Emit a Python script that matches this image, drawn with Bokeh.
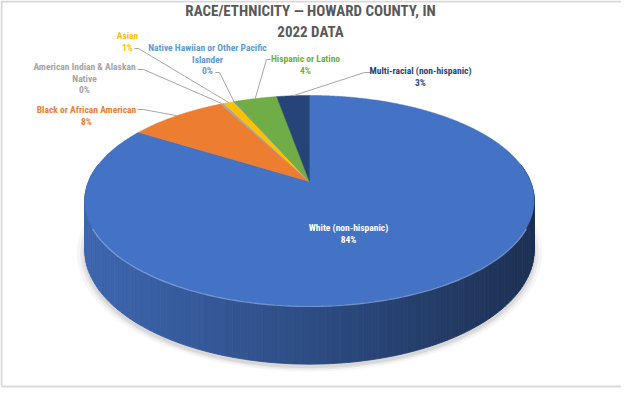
import numpy as np
from bokeh.plotting import figure
from bokeh.models import Range1d
from bokeh.core.properties import value
from bokeh.embed import file_html
from bokeh.resources import INLINE

# ---------------- data ----------------
title_lines = ["RACE/ETHNICITY \u2014 HOWARD COUNTY, IN", "2022 DATA"]
categories = ["White (non-hispanic)", "Black or African American",
              "American Indian & Alaskan Native", "Asian",
              "Native Hawiian or Other Pacific Islander", "Hispanic or Latino",
              "Multi-racial (non-hispanic)"]
shares = [83.9, 8.4, 0.25, 0.9, 0.05, 3.7, 2.8]
pct_labels = ["84%", "8%", "0%", "1%", "0%", "4%", "3%"]
label_lines = [["White (non-hispanic)"], ["Black or African American"],
               ["American Indian & Alaskan", "Native"], ["Asian"],
               ["Native Hawiian or Other Pacific", "Islander"], ["Hispanic or Latino"],
               ["Multi-racial (non-hispanic)"]]
colors = ["#4472C4", "#ED7D31", "#A5A5A5", "#FFC000", "#5B9BD5", "#70AD47", "#264478"]
label_colors = ["#FFFFFF", "#ED7D31", "#A5A5A5", "#FFC000", "#5B9BD5", "#70AD47", "#264478"]

# ---------------- layout (figure pixel coords, y downwards) ----------------
W, H = 621, 388
CX, CY = 309.0, 181.0      # projected pie centre
A, B, K = 221.0, 101.6, 0.181   # perspective projection parameters
HD = 48.0                  # side depth
FONT = "Roboto Condensed, Liberation Sans Narrow, Liberation Sans, sans-serif"
label_pos = [(348, 227), (86, 109), (84, 66), (127, 35), (207, 47), (305, 58), (420, 70)]
leader_start = [None, [(137, 109), (143, 109)], [(137, 69), (143, 69)], [(134, 48), (138, 48)],
                [(215, 72), (219, 72)], [(270, 59), (266, 59)], [(370, 72), (364, 72)]]
LINE_H = 11.5


def proj(theta_deg):
    t = np.radians(theta_deg)
    s = 1 + K * np.cos(t)
    return CX + A * np.sin(t) / s, CY - B * np.cos(t) / s


def depth(theta_deg):
    return HD / (1 + K * np.cos(np.radians(theta_deg)))


def hex2rgb(h):
    return np.array([int(h[i:i + 2], 16) for i in (1, 3, 5)], dtype=float)


def rgb2hex(c):
    c = np.clip(np.round(c), 0, 255).astype(int)
    return "#%02x%02x%02x" % tuple(c)


p = figure(width=W, height=H, x_range=Range1d(0, W), y_range=Range1d(H, 0),
           output_backend="svg", toolbar_location=None, min_border=0,
           x_axis_location=None, y_axis_location=None)
p.grid.visible = False
p.outline_line_color = None
p.background_fill_color = "white"
p.border_fill_color = "white"

# frame
p.line([W, 1, 1], [1, 1, H - 2], line_color="#D9D9D9", line_width=2)
p.line([1, W], [H - 2, H - 2], line_color="#D9D9D9", line_width=2)

total = sum(shares)
bounds = np.concatenate([[0], np.cumsum(shares)]) / total * 360.0

# shadow
th_all = np.linspace(0, 360, 181)
bx, by = proj(th_all)
by = by + depth(th_all)
mx, my = bx.mean(), by.mean()
for sc, al in [(1.035, 0.035), (1.02, 0.05), (1.008, 0.07)]:
    p.patch(mx + (bx - mx) * sc, my + (by - my) * sc + 3, fill_color="#000000",
            fill_alpha=al, line_color=None)

# side (front half), shaded left->right
th_side = np.linspace(80, 280, 121)
sx, sy = proj(th_side)
sd = depth(th_side)
xmin, xmax = sx.min(), sx.max()
xs_side, ys_side, cols_side = [], [], []
for i in range(len(th_side) - 1):
    xq = [sx[i], sx[i + 1], sx[i + 1], sx[i]]
    yq = [sy[i], sy[i + 1], sy[i + 1] + sd[i + 1], sy[i] + sd[i]]
    tm = 0.5 * (th_side[i] + th_side[i + 1])
    idx = int(np.searchsorted(bounds, tm, side="right") - 1)
    idx = min(max(idx, 0), len(shares) - 1)
    f = (0.5 * (sx[i] + sx[i + 1]) - xmin) / (xmax - xmin)
    shade = np.interp(f, [0, 0.5, 1], [0.90, 0.67, 0.42])
    c = rgb2hex(hex2rgb(colors[idx]) * shade)
    xs_side.append(xq)
    ys_side.append(yq)
    cols_side.append(c)
p.patches(xs_side, ys_side, fill_color=cols_side, line_color=cols_side, line_width=0.8)

# top face slices
for i, v in enumerate(shares):
    a0, a1 = bounds[i], bounds[i + 1]
    if a1 - a0 <= 0.1:
        continue
    n = max(3, int((a1 - a0) / 0.5) + 2)
    th = np.linspace(a0, a1, n)
    rx, ry = proj(th)
    p.patch(np.concatenate([[CX], rx]), np.concatenate([[CY], ry]),
            fill_color=colors[i], line_color=colors[i], line_width=0.5)

# front highlight on the rim
th_h = np.linspace(115, 245, 80)
hx, hy = proj(th_h)
p.line(hx, hy + 0.8, line_color="#7FA3E0", line_width=1.4, line_alpha=0.8)

# leader lines
for i, st in enumerate(leader_start):
    if st is None:
        continue
    mid = 0.5 * (bounds[i] + bounds[i + 1])
    ex, ey = proj(mid)
    p.line([st[0][0], st[1][0], float(ex)], [st[0][1], st[1][1], float(ey)],
           line_color="#A6A6A6", line_width=1)

# labels
tx, ty, tt, tc = [], [], [], []
for i, lines in enumerate(label_lines):
    x0, y0 = label_pos[i]
    for j, s in enumerate(lines + [pct_labels[i]]):
        tx.append(x0)
        ty.append(y0 + j * LINE_H)
        tt.append(s)
        tc.append(label_colors[i])
p.text(tx, ty, text=tt, text_color=tc, text_font=value(FONT), text_font_style="bold",
       text_font_size="9.5px", text_align="center", text_baseline="middle")

# title
p.text([310, 310], [10, 31], text=title_lines, text_color="#595959", text_font=value(FONT),
       text_font_style="bold", text_font_size="15px", text_align="center",
       text_baseline="middle")

open("out.html", "w").write(file_html(p, INLINE))
